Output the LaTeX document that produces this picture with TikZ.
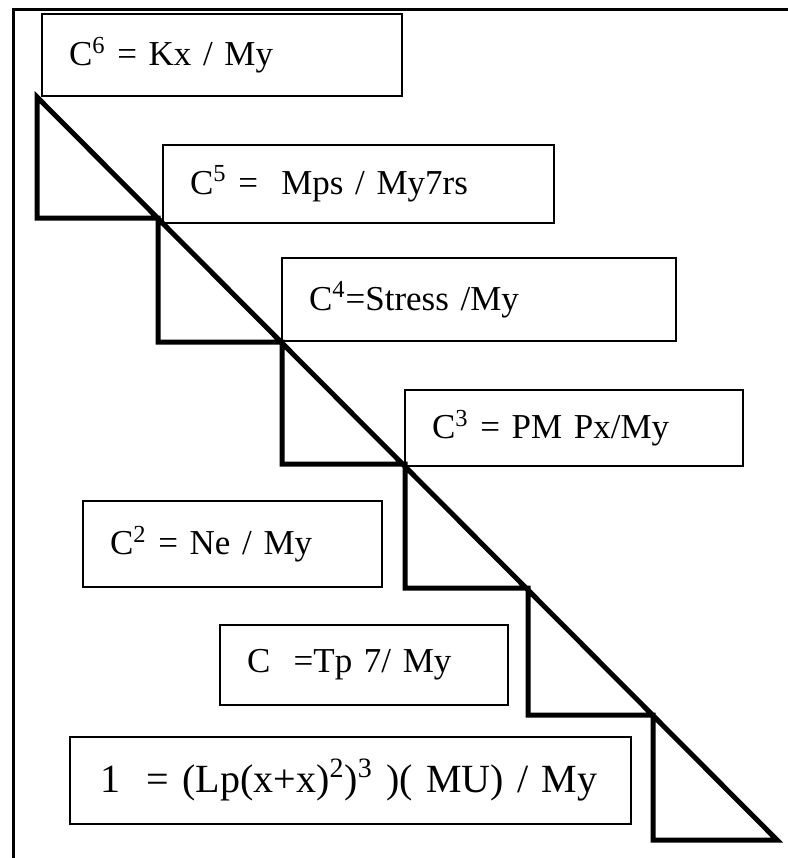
\documentclass[tikz,border=0pt]{standalone}
\usepackage{fontspec}
\setmainfont{Liberation Serif}[WordSpace=0.6]

\tikzset{
  boite/.style={draw, line width=1pt, anchor=north west, inner xsep=13.5pt,
    inner ysep=0pt, font=\fontsize{17.5}{20}\selectfont},
}

\begin{document}
\begin{tikzpicture}[x=0.5pt, y=-0.5pt]
\useasboundingbox (0,0) rectangle (788,858);

% Cadre
\draw[line width=1.5pt] (788,9) -- (13,9) -- (13,858);

% Escalier
\draw[line width=2.5pt]
  (37,97) -- (37,218) -- (158,218) -- (158,342) -- (282,342) -- (282,464)
  -- (405,464) -- (405,588) -- (528,588) -- (528,715) -- (653,715)
  -- (653,840) -- (777,840) -- cycle;

% Boites
\node[boite, text width=153pt, minimum height=41pt] (c6) at (41,13)
  {C\textsuperscript{6} = Kx / My};
\node[boite, text width=168.5pt, minimum height=39pt] (c5) at (162,144)
  {C\textsuperscript{5} =\ \ Mps / My7rs};
\node[boite, text width=170pt, minimum height=41.5pt] (c4) at (281,257)
  {C\textsuperscript{4}=Stress /My};
\node[boite, text width=142pt, minimum height=38pt] (c3) at (404,389)
  {C\textsuperscript{3} = PM Px/My};
\node[boite, text width=122.5pt, minimum height=43pt] (c2) at (82,500)
  {C\textsuperscript{2} = Ne / My};
\node[boite, text width=117pt, minimum height=40pt] (c1) at (219,624)
  {C\ \ =Tp 7/ My};
\node[boite, inner xsep=15pt, text width=250.5pt, minimum height=43.5pt,
  font=\fontsize{20}{22}\selectfont] (un) at (69,736)
  {\mbox{1\ \ = (Lp(x+x)\textsuperscript{2})\textsuperscript{3} )( MU) / My}};

\end{tikzpicture}
\end{document}
